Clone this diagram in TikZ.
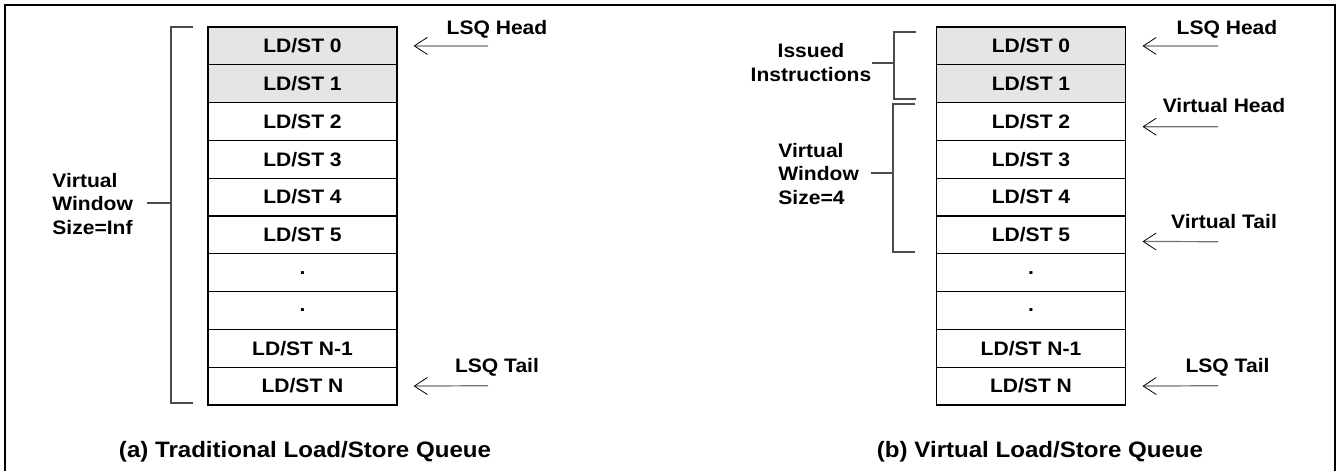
\documentclass[tikz,border=0pt]{standalone}
\usepackage{fontspec}
\setmainfont{Liberation Sans}[FakeStretch=1.08]
\usepackage{xcolor}
\usetikzlibrary{arrows.meta,positioning}

\tikzset{
  slot/.style={draw,line width=0.6pt,fill=white,minimum width=94.5pt,minimum height=18.9pt,
    inner sep=0pt,font=\fontsize{9.75}{11.6}\selectfont\bfseries},
  busy/.style={slot,fill=black!10},
  lbl/.style={inner sep=0pt,font=\fontsize{9.75}{11.6}\selectfont\bfseries},
  captxt/.style={inner sep=0pt,font=\fontsize{11.15}{13}\selectfont\bfseries},
  brk/.style={draw=black!70,line width=0.6pt},
  ptr/.style={draw=black!55,line width=0.6pt,
    -{Straight Barb[length=6.5pt,width=8.5pt,color=black,line width=0.4pt]}}
}

\begin{document}
\begin{tikzpicture}[x=0.5pt,y=0.5pt,yscale=-1,xscale=1]
		\useasboundingbox (0,0) rectangle (1340,471);
		
		%Frame (open at the bottom)
		\draw [line width=1.3pt] (5,471) -- (5,5) -- (1335,5) -- (1335,471) ;
		
		%Queue slots, (a) and (b)
		\foreach \q/\cx in {a/302.5,b/1031}{
			\foreach \txt/\sty [count=\i from 0] in {{LD/ST 0}/busy,{LD/ST 1}/busy,{LD/ST 2}/slot,{LD/ST 3}/slot,
				{LD/ST 4}/slot,{LD/ST 5}/slot,./slot,./slot,{LD/ST N-1}/slot,{LD/ST N}/slot}{
				\node [\sty] (q\q-\i) at (\cx,{27+37.8*(\i+0.5)}) {\txt};
			}
		}
		
		% ---- (a) traditional ----
		%Bracket
		\draw [brk] (193,27) -| (171,403) -- (193,403) ;
		\draw [brk] (147,203) -- (171,203) ;
		% Text Node
		\node [lbl,anchor=west,align=left] (wa) at (52,204) {Virtual\\Window\\Size=Inf};
		
		%Pointers
		\coordinate (ha) at (488,46) ;
		\coordinate (ta) at (488,385.7) ;
		\draw [ptr] (ha) -- ([xshift=8pt]qa-0.east) ;
		\draw [ptr] (ta) -- ([xshift=8pt]qa-9.east) ;
		% Text Node
		\node [lbl] (lha) at (497,29) {LSQ Head};
		% Text Node
		\node [lbl] (lta) at (497,367) {LSQ Tail};
		
		% Text Node
		\node [captxt] (capa) at (305,451.5) {(a) Traditional Load/Store Queue};
		
		% ---- (b) virtual ----
		%Brackets
		\draw [brk] (916,32) -| (894,99) -- (916,99) ;
		\draw [brk] (872,63) -- (894,63) ;
		\draw [brk] (915,104) -| (893,252) -- (915,252) ;
		\draw [brk] (871,173) -- (893,173) ;
		% Text Node
		\node [lbl,align=center] (iss) at (811,62.5) {Issued\\Instructions};
		% Text Node
		\node [lbl,anchor=west,align=left] (wb) at (778,174) {Virtual\\Window\\Size=4};
		
		%Pointers
		\coordinate (hb) at (1218,46) ;
		\coordinate (vhb) at (1218,126.7) ;
		\coordinate (vtb) at (1218,241.7) ;
		\coordinate (tb) at (1218,385.7) ;
		\draw [ptr] (hb) -- ([xshift=8.2pt]qb-0.east) ;
		\draw [ptr] (vhb) -- ([xshift=8.2pt,yshift=2.6pt]qb-2.east) ;
		\draw [ptr] (vtb) -- ([xshift=8.2pt,yshift=3.3pt]qb-5.east) ;
		\draw [ptr] (tb) -- ([xshift=8.2pt]qb-9.east) ;
		% Text Node
		\node [lbl] (lhb) at (1227,29) {LSQ Head};
		% Text Node
		\node [lbl] (lvhb) at (1224,106) {Virtual Head};
		% Text Node
		\node [lbl] (lvtb) at (1224,222) {Virtual Tail};
		% Text Node
		\node [lbl] (ltb) at (1227.5,367) {LSQ Tail};
		
		% Text Node
		\node [captxt] (capb) at (1040,451.5) {(b) Virtual Load/Store Queue};
		
\end{tikzpicture}
\end{document}
